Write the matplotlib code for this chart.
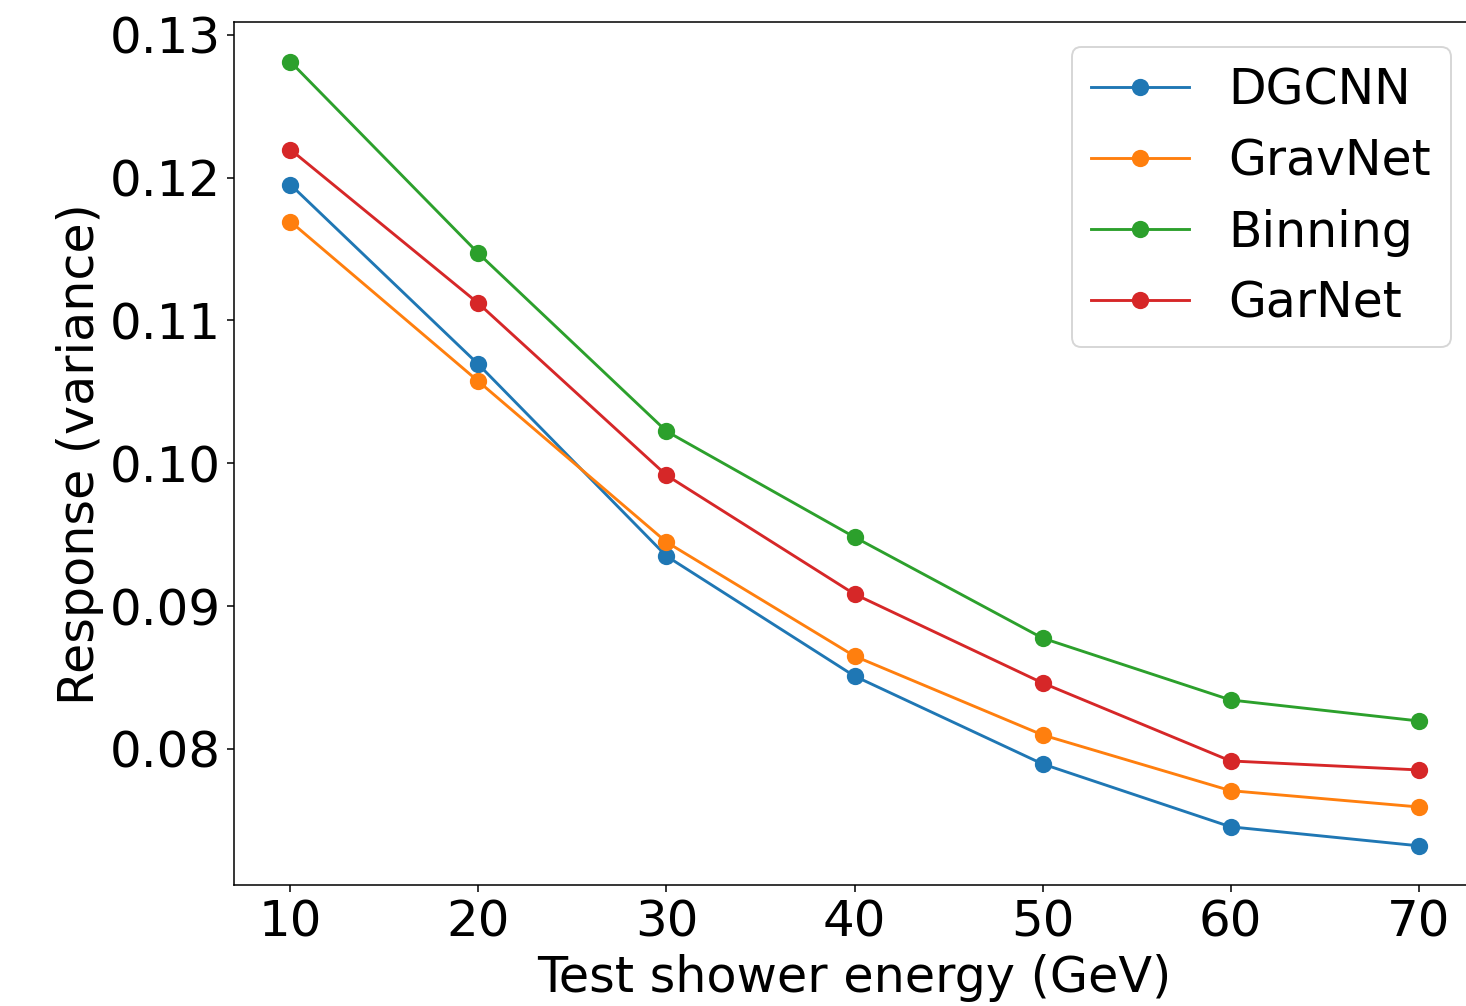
import numpy as np
import matplotlib
matplotlib.use("Agg")
import matplotlib.pyplot as plt


energies = [10, 20, 30, 40, 50, 60, 70]

dgcnn = [0.11951, 0.10692, 0.09350, 0.08510, 0.07895, 0.07455, 0.07322]
gravnet = [0.11692, 0.10573, 0.09448, 0.08650, 0.08098, 0.07708, 0.07594]
binning = [0.12811, 0.11469, 0.10224, 0.09483, 0.08776, 0.08343, 0.08196]
garnet = [0.12196, 0.11119, 0.09916, 0.09084, 0.08462, 0.07916, 0.07853]

series = [
    ("DGCNN", dgcnn, "#1f77b4"),
    ("GravNet", gravnet, "#ff7f0e"),
    ("Binning", binning, "#2ca02c"),
    ("GarNet", garnet, "#d62728"),
]

DPI = 138.2

plt.rcParams["font.size"] = 26

fig = plt.figure(figsize=(1466 / DPI, 1006 / DPI), dpi=DPI)
ax = fig.add_axes([234 / 1466, 121 / 1006, 1241 / 1466, 862.5 / 1006])

for name, values, color in series:
    ax.plot(energies, values, marker="o", markersize=8, linewidth=1.5,
            color=color, label=name)

ax.set_xticks([10, 20, 30, 40, 50, 60, 70])
ax.set_yticks([0.08, 0.09, 0.10, 0.11, 0.12, 0.13])
ax.set_yticklabels(["0.08", "0.09", "0.10", "0.11", "0.12", "0.13"])

# the axes run past the right edge of the picture, so no right spine shows
ax.spines["right"].set_visible(False)

ax.set_xlabel("Test shower energy (GeV)", fontsize=25.7, labelpad=4)
ax.set_ylabel("Response (variance)", fontsize=25.6, labelpad=3)

ax.legend(loc="upper right", labelspacing=0.47, fontsize=25.5)

fig.savefig("out.png", dpi=DPI)
